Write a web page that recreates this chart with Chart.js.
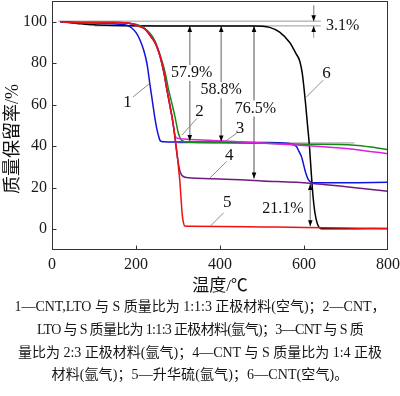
<!DOCTYPE html>
<html><head><meta charset="utf-8">
<script src="https://cdn.jsdelivr.net/npm/chart.js@4/dist/chart.umd.min.js"></script>
<style>
html,body{margin:0;padding:0;background:#fff;}
#wrap{position:relative;width:400px;height:396px;overflow:hidden;}
#box{position:absolute;left:0;top:0;width:400px;height:300px;}
.cap{position:absolute;left:0;width:400px;text-align:center;font-size:14px;font-family:"Liberation Serif","Noto Sans CJK SC",serif;color:#151515;white-space:nowrap;line-height:20px;}
</style></head>
<body>
<div id="wrap"><div id="box"><canvas id="c" width="400" height="300"></canvas></div></div>
<script>
// ---- data ----
const xTicks=[0,200,400,600,800];
const yTicks=[0,20,40,60,80,100];
// 1 CNT/LTO/S (air)
const T1=[20,60,120,160,178,190,201,210,218,226,229,233,237,241,245,249,253,258,265,300,400,500,560,570,582,588,594,598,602,606,610,616,622,700,800];
const W1=[100,99.6,99.3,98.8,98.3,97,94.5,91,86.5,80,76,70,64.5,59,53.5,49,45.5,42.6,42.2,42.1,42,41.8,41.4,41,39.9,37.5,35,32,28.7,26,24,22.8,22.4,22.4,22.6];
// 2 CNT/LTO/S (Ar)
const T2=[20,60,150,190,221,245,262,270,277,285,292,296,300,304,308,314,320,400,500,600,720,760,800];
const W2=[100,99.6,99.6,99.1,96.8,90.8,81,75,67.8,61,55,51,47,44.5,43,42.3,42,41.7,41.4,41,40.5,39.6,38.3];
// 3 CNT:S 2:3 (Ar)
const T3=[20,60,150,190,205,221,235,245,254,261,267,273,279,285,289,292,295,300,320,400,500,600,680,740,800];
const W3=[100,99.6,99.6,99,98,96.5,93,90,85.5,80.5,75,68,61.5,55,50,46,44.3,43.8,43.4,42.6,41.6,40.4,39.3,38,36.4];
// 4 CNT:S 1:4 (Ar)
const T4=[20,60,150,190,205,221,235,245,254,261,267,273,279,285,289,292,296,300,304,308,314,320,400,500,614,700,800];
const W4=[100,99.6,99.6,99,98,96.5,93,90,85.5,80.5,75,68,61.5,55,50,45.5,38.5,32.7,28.5,26.3,25.3,24.9,24.2,23.3,22.2,20.5,18.3];
// 5 sublimed sulfur (Ar)
const T5=[20,60,150,190,205,221,235,245,254,261,267,273,279,285,289,292,296,299,302,304.5,307,310,313,316,330,400,500,600,700,800];
const W5=[100,99.6,99.6,99,98,96.5,93,90,85.5,80.5,75,68,61.5,55,50,45.5,39.5,34.3,28,23,15.5,7.2,3.2,1.6,1.4,1.3,1.1,0.9,0.6,0.2];
// 6 CNT (air)
const T6=[20,60,100,150,300,480,518,542,566,580,590,596,600,604,608,613,617,621,626,632,641,700,800];
const W6=[100,99.2,98.5,98.2,98,98,97.3,95,90,85,81,75,68,60,51,40,28,17,8,2.5,0.3,0.2,0.4];
// guide segments [t1,w1,t2,w2]
const guideSegs=[[15,100.3,640,100.3],[100,98,640,98],[300,41.6,720,41.6],
  [328,98,328,42.5],[403,98,403,42.3],[481,98,481,24.5],[615,21.8,615,1.5],
  [623,107.8,623,100.3],[623,92.3,623,98]];
// arrow tips [t,w,dir] dir 1=down, -1=up
const arrowTips=[[328,98,-1],[328,42.5,1],[403,98,-1],[403,42.3,1],[481,98,-1],[481,24.5,1],
  [615,21.8,-1],[615,1.5,1],[623,100.3,1],[623,98,-1]];
const pctText=['57.9%','58.8%','76.5%','21.1%','3.1%'];
const pctT=[332.5,402.6,484.6,550,692];
const pctW=[75.3,67,58.2,9.9,98.1];
const numText=['1','2','3','4','5','6'];
const numT=[180,351,447.6,422,417,653.5];
const numW=[61.2,56.5,48.6,35.4,12.7,75];
const leadFrom=[[193,63.8],[345,53.4],[440,46.3],[416,32.7],[409,8],[645.5,71.8]];
const leadTo=[[231,70],[309.5,45.4],[412,42.3],[376,24.7],[376,1.3],[606,63.8]];
const captionLines=[
 '1—CNT,LTO 与 S 质量比为 1:1:3 正极材料(空气)；2—CNT，',
 'LTO 与 S 质量比为 1:1:3 正极材料(氩气)；3—CNT 与 S 质',
 '量比为 2:3 正极材料(氩气)；4—CNT 与 S 质量比为 1:4 正极',
 '材料(氩气)；5—升华硫(氩气)；6—CNT(空气)。'];
const xTitle='温度/℃', yTitle='质量保留率/%';

// ---- build ----
const pts=(T,W)=>T.map((t,i)=>({x:t,y:W[i]}));
const curve=(T,W,color,order)=>({data:pts(T,W),borderColor:color,borderWidth:1.5,pointRadius:0,
  cubicInterpolationMode:'monotone',fill:false,order});
const datasets=[
  curve(T5,W5,'#ee1111',0),
  curve(T4,W4,'#701a80',1),
  curve(T3,W3,'#e020e0',2),
  curve(T2,W2,'#138a13',3),
  curve(T1,W1,'#1212e0',4),
  curve(T6,W6,'#000000',5),
  ...guideSegs.map(s=>({data:[{x:s[0],y:s[1]},{x:s[2],y:s[3]}],borderColor:'#9a9a9a',borderWidth:1,
    pointRadius:0,tension:0,fill:false,order:10}))
];
const SERIF='"Liberation Serif","Noto Sans CJK SC",serif';
const deco={id:'deco',
 afterDatasetsDraw(chart){
  const {ctx,chartArea:a,scales:{x,y}}=chart;
  const px=v=>x.getPixelForValue(v), py=v=>y.getPixelForValue(v);
  ctx.save();
  ctx.strokeStyle='#808080';ctx.lineWidth=0.9;
  leadFrom.forEach((p,i)=>{ctx.beginPath();ctx.moveTo(px(p[0]),py(p[1]));ctx.lineTo(px(leadTo[i][0]),py(leadTo[i][1]));ctx.stroke();});
  ctx.fillStyle='#000';
  arrowTips.forEach(([t,w,d])=>{const X=px(t),Y=py(w);ctx.beginPath();ctx.moveTo(X,Y);ctx.lineTo(X-2.3,Y-d*6);ctx.lineTo(X+2.3,Y-d*6);ctx.closePath();ctx.fill();});
  ctx.font='16px '+SERIF;ctx.textAlign='center';ctx.textBaseline='middle';
  pctText.forEach((s,i)=>{const X=px(pctT[i]),Y=py(pctW[i]);const w=ctx.measureText(s).width;
    ctx.fillStyle='#fff';ctx.fillRect(X-w/2-1,Y-8,w+2,16);ctx.fillStyle='#111';ctx.fillText(s,X,Y);});
  ctx.font='17px '+SERIF;
  numText.forEach((s,i)=>{ctx.fillStyle='#111';ctx.fillText(s,px(numT[i]),py(numW[i]));});
  // frame
  ctx.strokeStyle='#333';ctx.lineWidth=1;
  const L=Math.round(a.left)+0.5,R=Math.round(a.right)-0.5,Tp=Math.round(a.top)+0.5,B=Math.round(a.bottom)-0.5;
  ctx.strokeRect(L,Tp,R-L,B-Tp);
  ctx.beginPath();
  xTicks.forEach(v=>{const X=Math.round(px(v))+0.5;if(X>L+1&&X<R-1){ctx.moveTo(X,B);ctx.lineTo(X,B-4);}});
  yTicks.forEach(v=>{const Y=Math.round(py(v))+0.5;ctx.moveTo(L,Y);ctx.lineTo(L+4,Y);});
  ctx.stroke();
  // y title
  ctx.translate(13,139);ctx.rotate(-Math.PI/2);ctx.font='18px '+SERIF;ctx.fillStyle='#111';
  ctx.fillText(yTitle,0,0);
  ctx.restore();
 }};
new Chart(document.getElementById('c'),{
  type:'line',
  data:{datasets},
  options:{responsive:false,animation:false,devicePixelRatio:1,
    layout:{padding:{top:1,right:12,left:0,bottom:0}},
    plugins:{legend:{display:false},tooltip:{enabled:false}},
    scales:{
      x:{type:'linear',min:0,max:800,
        afterBuildTicks:s=>{s.ticks=xTicks.map(v=>({value:v}));},
        afterFit:s=>{s.height=50;s.paddingLeft=0;s.paddingRight=0;},
        grid:{display:false,drawTicks:false},border:{display:false},
        ticks:{font:{family:SERIF,size:16},color:'#1a1a1a',padding:5,maxRotation:0,autoSkip:false},
        title:{display:true,text:xTitle,font:{family:SERIF,size:17},color:'#111',padding:{top:0,bottom:3}}},
      y:{type:'linear',min:-10,max:110,
        afterBuildTicks:s=>{s.ticks=yTicks.map(v=>({value:v}));},
        afterFit:s=>{s.width=52;s.paddingTop=0;s.paddingBottom=0;},
        grid:{display:false,drawTicks:false},border:{display:false},
        ticks:{font:{family:SERIF,size:16},color:'#1a1a1a',padding:5}}
    }},
  plugins:[deco]
});
// caption (each line fitted to the width it has in the reference)
const captionWidths=[371,326,364,297];
const wrap=document.getElementById('wrap');
captionLines.forEach((s,i)=>{const d=document.createElement('div');d.className='cap';d.style.top=(297+i*22.8)+'px';
  const sp=document.createElement('span');sp.textContent=s;d.appendChild(sp);wrap.appendChild(d);
  const w=sp.getBoundingClientRect().width;const n=[...s].length;
  sp.style.letterSpacing=((captionWidths[i]-w)/n).toFixed(2)+'px';});
</script>
</body></html>
